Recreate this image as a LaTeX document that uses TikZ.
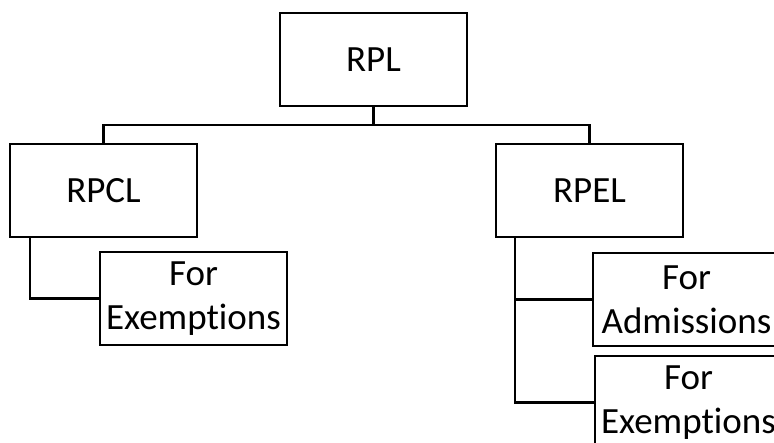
\documentclass[tikz,border=0pt]{standalone}
\usepackage{fontspec}
\setmainfont{Carlito}[Ligatures=CommonOff]
\usetikzlibrary{positioning}

\begin{document}
\begin{tikzpicture}[x=1pt,y=-1pt,
	box/.style={draw, line width=2.2pt, minimum width=187pt, minimum height=93pt,
		inner sep=0pt, align=center, font=\fontsize{37}{44}\selectfont},
	link/.style={line width=2.2pt}]
	\clip (0,0) rectangle (774,443);
	% top level
	\node[box] (rpl) at (373.5,59.5) {RPL};
	\node[box] (rpcl) at (103.5,190.5) {RPCL};
	\node[box] (rpel) at (589.5,190.5) {RPEL};
	% second level
	\node[box] (exl) at (193.5,298.5) {For\\Exemptions};
	\node[box] (adm) at (686.5,299.5) {For\\Admissions};
	\node[box] (exr) at (688.5,402.5) {For\\Exemptions};
	\coordinate (bus) at (373.5,125);
	\draw[link](rpl.south)--(bus);
	\draw[link](bus)-|(rpcl.north);
	\draw[link](bus)-|(rpel.north);
	\draw[link]([xshift=-73.5pt]rpcl.south)|-(exl.west);
	\draw[link]([xshift=-74.5pt]rpel.south)|-(adm.west);
	\draw[link]([xshift=-74.5pt]rpel.south)|-(exr.west);
\end{tikzpicture}
\end{document}
